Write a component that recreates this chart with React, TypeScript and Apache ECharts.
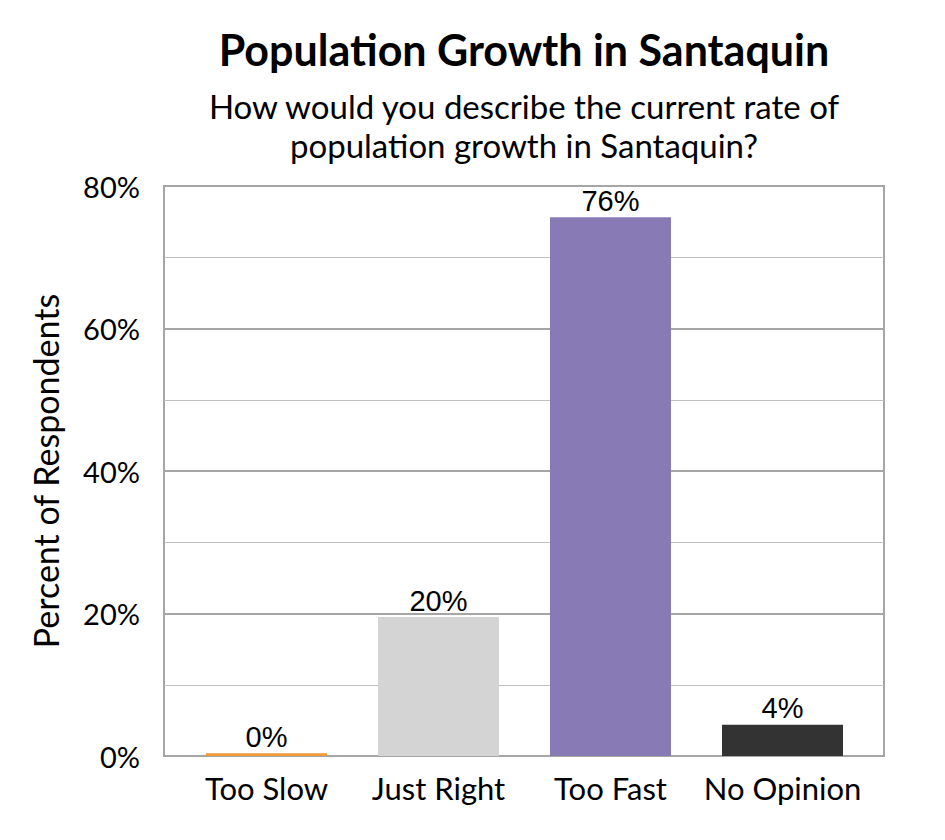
import React, { useEffect, useRef } from "react";
import * as echarts from "echarts";

const categories = ["Too Slow", "Just Right", "Too Fast", "No Opinion"];
const values = [0.4, 19.5, 75.6, 4.4];
const barColors = ["#F0983A", "#D4D4D4", "#877AB5", "#333333"];
const titleText = "Population Growth in Santaquin";
const subtitleLines = ["How would you describe the current rate of", "population growth in Santaquin?"];
const yAxisName = "Percent of Respondents";

export default function App() {
  const ref = useRef<HTMLDivElement>(null);
  useEffect(() => {
    if (!ref.current) return;
    const chart = echarts.init(ref.current, null, { renderer: "svg" });
    const font = "Lato";
    chart.setOption({
      animation: false,
      backgroundColor: "#ffffff",
      title: [
        {
          text: titleText,
          left: 519,
          textAlign: "center",
          top: 23,
          textStyle: { fontFamily: font, fontWeight: "bold", fontSize: 43, color: "#000" },
        },
        {
          text: subtitleLines.join("\n"),
          left: 519,
          textAlign: "center",
          top: 81,
          textStyle: { fontFamily: font, fontWeight: "normal", fontSize: 33, lineHeight: 39, color: "#000", align: "center" },
        },
      ],
      grid: [
        { left: 164, right: 61, top: 186, bottom: 84, show: true, borderColor: "#A6A6A6", borderWidth: 2, backgroundColor: "transparent" },
        { left: 180.5, right: 76.5, top: 186, bottom: 84 },
      ],
      xAxis: [
        { type: "category", gridIndex: 0, data: [], show: false },
        {
          type: "category",
          gridIndex: 1,
          data: categories,
          axisLine: { show: false },
          axisTick: { show: false },
          axisLabel: { fontFamily: font, fontSize: 31, color: "#000", margin: 16, interval: 0 },
        },
      ],
      yAxis: [
        {
          type: "value",
          gridIndex: 0,
          min: 0,
          max: 80,
          interval: 20,
          axisLine: { show: false },
          axisTick: { show: false },
          axisLabel: { fontFamily: font, fontSize: 29, color: "#000", margin: 24, formatter: "{value}%" },
          splitLine: { show: true, lineStyle: { color: "#A6A6A6", width: 2 } },
          minorTick: { show: false, splitNumber: 2 },
          minorSplitLine: { show: true, lineStyle: { color: "#BFBFBF", width: 1 } },
          name: yAxisName,
          nameLocation: "middle",
          nameRotate: 90,
          nameGap: 102,
          nameTextStyle: { fontFamily: font, fontSize: 34, color: "#000" },
        },
        { type: "value", gridIndex: 1, min: 0, max: 80, show: false, splitLine: { show: false } },
      ],
      series: [
        {
          type: "bar",
          xAxisIndex: 1,
          yAxisIndex: 1,
          barWidth: 121,
          data: values.map((v, i) => ({ value: v, itemStyle: { color: barColors[i] } })),
          label: {
            show: true,
            position: "top",
            distance: 2,
            fontFamily: "Liberation Sans",
            fontSize: 29,
            color: "#000",
            formatter: (p: any) => Math.round(p.value) + "%",
          },
        },
      ],
    });
    return () => chart.dispose();
  }, []);
  return <div ref={ref} style={{ position: "fixed", left: 0, top: 0, width: 945, height: 840 }} />;
}
